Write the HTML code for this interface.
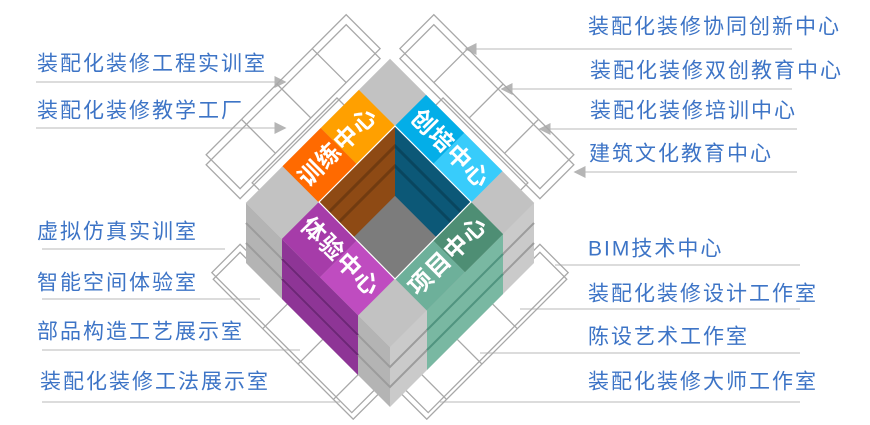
<!DOCTYPE html>
<html><head><meta charset="utf-8"><style>
html,body{margin:0;background:#fff;width:870px;height:425px;overflow:hidden}
svg{display:block}
.t{font-family:"Liberation Sans","Noto Sans CJK SC",sans-serif;font-size:21px;fill:#3d74c6;letter-spacing:2px}
.c{font-family:"Liberation Sans","Noto Sans CJK SC",sans-serif;font-size:24px;font-weight:bold;fill:#fff;letter-spacing:1px}
.w{fill:none;stroke:#a8a8a8;stroke-width:1.3}
.l{stroke:#d0d0d0;stroke-width:1.5}
</style></head><body>
<svg width="870" height="425" viewBox="0 0 870 425">
<defs>
<clipPath id="hole"><polygon points="319,202 395,126 471,202 395,279"/></clipPath>
<clipPath id="frame"><rect x="0" y="0" width="870" height="420"/></clipPath>
<marker id="a" markerWidth="8" markerHeight="8" refX="7" refY="4" orient="auto"><path d="M0,0 L8,4 L0,8z" fill="#b5b5b5"/></marker>
</defs>
<g class="l">
<line x1="36" y1="82" x2="285" y2="82" marker-end="url(#a)"/>
<line x1="36" y1="128" x2="285" y2="128" marker-end="url(#a)"/>
<line x1="42" y1="249" x2="225" y2="249"/>
<line x1="42" y1="299" x2="260" y2="299"/>
<line x1="42" y1="350" x2="300" y2="350"/>
<line x1="42" y1="402" x2="340" y2="402"/>
<line x1="792" y1="49" x2="466" y2="49" marker-end="url(#a)"/>
<line x1="792" y1="89" x2="502" y2="89" marker-end="url(#a)"/>
<line x1="797" y1="129" x2="540" y2="129" marker-end="url(#a)"/>
<line x1="797" y1="172" x2="575" y2="172" marker-end="url(#a)"/>
<line x1="800" y1="265" x2="555" y2="265"/>
<line x1="800" y1="309" x2="520" y2="309"/>
<line x1="800" y1="353" x2="480" y2="353"/>
<line x1="800" y1="402" x2="440" y2="402"/>
</g>
<g clip-path="url(#frame)">
<g transform="translate(390,183) rotate(45)">
<rect class="w" x="-150" y="-88" width="48" height="198"/>
<rect class="w" x="-88" y="-150" width="198" height="48"/>
<path class="w" d="M-150,-40 h48 M-150,10 h48 M-150,60 h48 M-40,-150 v48 M10,-150 v48 M60,-150 v48"/>
</g>
<g transform="translate(390,193) rotate(45)">
<rect class="w" x="-150" y="-88" width="48" height="198"/>
<rect class="w" x="-88" y="-150" width="198" height="48"/>
</g>
<g transform="translate(390,250) rotate(45)">
<rect class="w" x="102" y="-110" width="40" height="198"/>
<rect class="w" x="-110" y="102" width="198" height="40"/>
<rect class="w" x="-145" y="-70" width="43" height="120"/>
<rect class="w" x="-70" y="-145" width="120" height="43"/>
</g>
<g transform="translate(390,258) rotate(45)">
<rect class="w" x="102" y="-110" width="38" height="198"/>
<rect class="w" x="-110" y="102" width="198" height="38"/>
<path class="w" d="M102,-40 h38 M102,10 h38 M102,60 h38 M-40,102 v38 M10,102 v38 M60,102 v38"/>
</g>
</g>
<polygon points="246,203 390,347 390,407 246,263" fill="#b4b4b4"/>
<polygon points="390,347 534,203 534,263 390,407" fill="#cacaca"/>
<polygon points="282,239 358,315 358,375 282,299" fill="#8e3596"/>
<polygon points="427,310 503,234 503,294 427,370" fill="#79b8a2"/>
<g stroke-width="2">
<path d="M246,223 L390,367 L534,223 M246,243 L390,387 L534,243" stroke="#9c9c9c" fill="none"/>
<path d="M282,259 L358,335 M282,279 L358,355" stroke="#6e2478"/>
<path d="M427,330 L503,254 M427,350 L503,274" stroke="#4f9580"/>
</g>
<g transform="translate(390,203) rotate(45)">
<rect x="-102" y="-102" width="204" height="204" fill="#c2c2c2"/>
<rect x="-102" y="-58" width="51" height="54" fill="#ffa000"/>
<rect x="-102" y="-4" width="51" height="54" fill="#ff6a00"/>
<rect x="-51" y="-102" width="54" height="44" fill="#03aee8"/>
<rect x="3" y="-102" width="54" height="44" fill="#38ccfb"/>
<rect x="-51" y="50" width="54" height="52" fill="#a63ca9"/>
<rect x="3" y="50" width="54" height="52" fill="#bf4cc0"/>
<rect x="57" y="-58" width="45" height="54" fill="#4e8e74"/>
<rect x="57" y="-4" width="45" height="54" fill="#6db09a"/>
</g>
<g clip-path="url(#hole)">
<polygon points="319,202 395,126 471,202 395,279" fill="#7c7c7c"/>
<polygon points="319,202 395,126 395,196 319,272" fill="#8e4a14"/>
<polygon points="395,126 471,202 471,272 395,196" fill="#0c5877"/>
<path d="M319,222 L395,146 L471,222 M319,242 L395,166 L471,242" stroke="#00000033" stroke-width="3" fill="none"/>
<polygon points="319,272 395,196 471,272 395,349" fill="#7c7c7c"/>
</g>
<polygon points="319,202 395,126 471,202 395,279" fill="none" stroke="#fff" stroke-width="1.2"/>
<text class="c" transform="translate(339,148) rotate(-45)" text-anchor="middle" dominant-baseline="middle">训练中心</text>
<text class="c" transform="translate(449,150) rotate(45)" text-anchor="middle" dominant-baseline="middle">创培中心</text>
<text class="c" transform="translate(339,258) rotate(45)" text-anchor="middle" dominant-baseline="middle">体验中心</text>
<text class="c" transform="translate(449,257) rotate(-45)" text-anchor="middle" dominant-baseline="middle">项目中心</text>
<g class="t" dominant-baseline="middle">
<text x="37" y="65">装配化装修工程实训室</text>
<text x="37" y="112">装配化装修教学工厂</text>
<text x="37" y="233">虚拟仿真实训室</text>
<text x="37" y="284">智能空间体验室</text>
<text x="37" y="333">部品构造工艺展示室</text>
<text x="40" y="383">装配化装修工法展示室</text>
<text x="588" y="28">装配化装修协同创新中心</text>
<text x="590" y="72">装配化装修双创教育中心</text>
<text x="590" y="112">装配化装修培训中心</text>
<text x="589" y="155">建筑文化教育中心</text>
<text x="588" y="250">BIM技术中心</text>
<text x="588" y="295">装配化装修设计工作室</text>
<text x="588" y="338">陈设艺术工作室</text>
<text x="588" y="383">装配化装修大师工作室</text>
</g>
</svg>
</body></html>
